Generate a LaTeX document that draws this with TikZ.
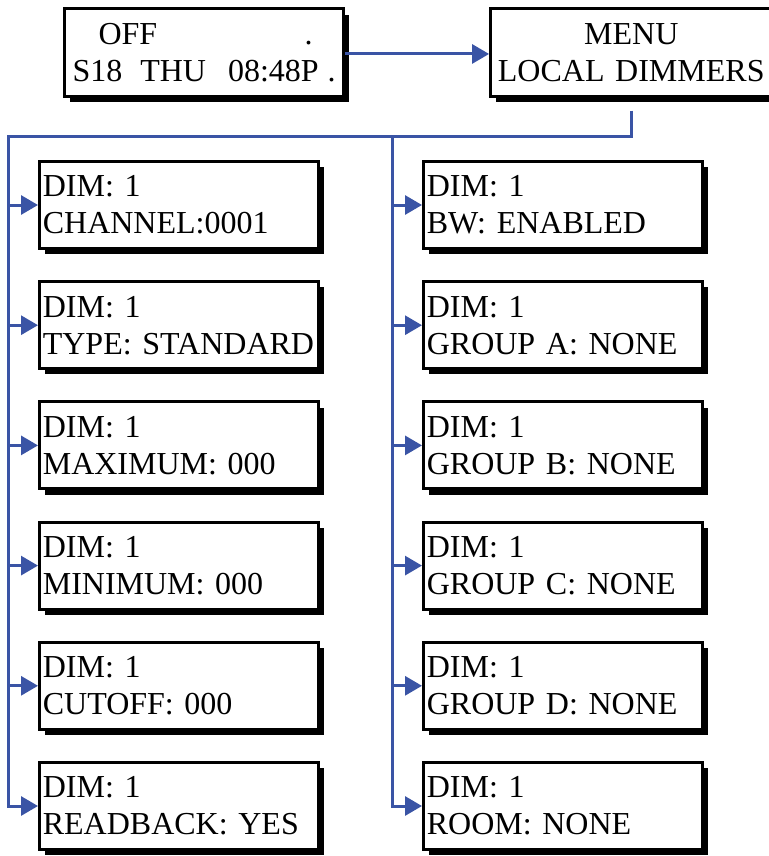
\documentclass[tikz,border=0pt]{standalone}
\usepackage{fontspec}
\setmainfont{Liberation Serif}
\usetikzlibrary{arrows.meta,shadows}
\definecolor{wire}{RGB}{58,84,165}
\tikzset{
  >={Triangle[length=12.75pt,width=14.25pt]},
  screen/.style={draw=black,fill=white,line width=2.25pt,
    minimum height=65.25pt,inner xsep=2.5pt,inner ysep=0pt,
    text width=204.25pt,align=left,
    font=\fontsize{24}{27.75}\selectfont,
    drop shadow={shadow xshift=4.2pt,shadow yshift=-4.2pt,opacity=1,fill=black}},
  flow/.style={->,draw=wire,line width=2.25pt},
}
\begin{document}
\begin{tikzpicture}[x=0.75pt,y=-0.75pt]
  \useasboundingbox (0,0) rectangle (768,856);
  % top row
  \node[screen,inner xsep=6pt,text width=197.25pt] (status) at (204,52.5)
    {\mbox{\hspace*{19.5pt}OFF\hspace{110.5pt}.}\\
     \mbox{S18\hspace{13.5pt}THU\hspace{16.5pt}08:48P\hspace{6.75pt}.}};
  \node[screen,text width=206pt,align=center] (menu) at (631.25,52.5)
    {MENU\\LOCAL DIMMERS};
  % left column
  \foreach \t [count=\i] in {CHANNEL:0001,TYPE: STANDARD,MAXIMUM: 000,
      MINIMUM: 000,CUTOFF: 000,READBACK: YES}
    \node[screen] (l\i) at (179,{205+120.2*(\i-1)}) {DIM: 1\\\t};
  % right column
  \foreach \t [count=\i] in {BW: ENABLED,GROUP A: NONE,GROUP B: NONE,
      GROUP C: NONE,GROUP D: NONE,ROOM: NONE}
    \node[screen] (r\i) at (563,{205+120.2*(\i-1)}) {DIM: 1\\\t};
  % connectors
  \coordinate (busL) at (8,136);
  \coordinate (busR) at (392,136);
  \draw[flow] ([yshift=-1.1pt]status.east) -- ([yshift=-1.1pt]menu.west);
  \draw[flow] ([yshift=-9.75pt]menu.south) |- (busL) |- (l6.west);
  \draw[flow] (busR) |- (r6.west);
  \foreach \i in {1,...,5} {
    \draw[flow] (busL |- l\i.west) -- (l\i.west);
    \draw[flow] (busR |- r\i.west) -- (r\i.west);
  }
\end{tikzpicture}
\end{document}
